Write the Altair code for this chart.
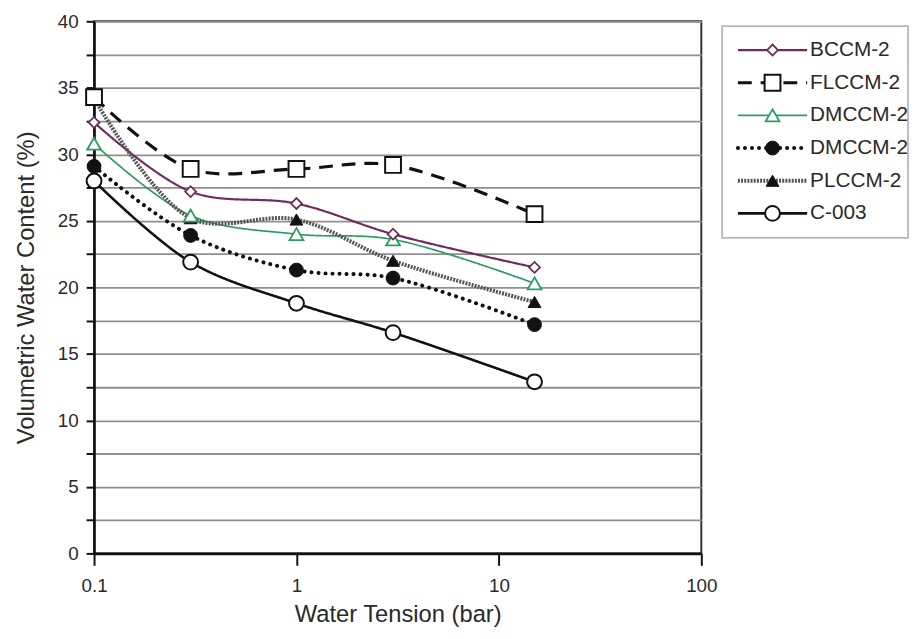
import altair as alt
import pandas as pd

# ---------------- data ----------------
tension = [0.1, 0.3, 1, 3, 15]
series_keys = ["BCCM-2", "FLCCM-2", "DMCCM-2 g", "DMCCM-2 k", "PLCCM-2", "C-003"]
legend_labels = ["BCCM-2", "FLCCM-2", "DMCCM-2", "DMCCM-2", "PLCCM-2", "C-003"]
bccm = [32.4, 27.2, 26.3, 24.0, 21.5]
flccm = [34.3, 28.9, 28.9, 29.2, 25.5]
dmccm_g = [30.8, 25.4, 24.0, 23.6, 20.3]
dmccm_k = [29.1, 23.9, 21.3, 20.7, 17.2]
plccm = [34.2, 25.2, 25.1, 22.0, 18.9]
c003 = [28.0, 21.9, 18.8, 16.6, 12.9]
values = [bccm, flccm, dmccm_g, dmccm_k, plccm, c003]

y_ticks = [i * 2.5 for i in range(17)]
x_ticks = [0.1, 1, 10, 100]

rows = []
for key, vals in zip(series_keys, values):
    for t, v in zip(tension, vals):
        rows.append({"series": key, "tension": t, "value": v})
df = pd.DataFrame(rows)

leg_rows = []
for i, (key, lab) in enumerate(zip(series_keys, legend_labels)):
    leg_rows.append({"series": key, "label": lab, "idx": i,
                     "x0": 16, "x1": 86, "xm": 51, "xt": 89})
leg_df = pd.DataFrame(leg_rows)
box_df = pd.DataFrame([{"bx0": 0, "bx1": 188, "by0": -0.73, "by1": 5.75}])

# ---------------- styles ----------------
styles = {
    "BCCM-2": dict(color="#6d2d5f", width=2.2, dash=[1, 0], cap="butt",
                   shape="diamond", filled=False, size=121, mstroke="#6d2d5f", sw=1.8),
    "FLCCM-2": dict(color="#111111", width=3.2, dash=[14, 9], cap="butt",
                    shape="square", filled=False, size=256, mstroke="#111111", sw=2),
    "DMCCM-2 g": dict(color="#2e9a62", width=1.7, dash=[1, 0], cap="butt",
                      shape="triangle-up", filled=False, size=196, mstroke="#2e9a62", sw=1.8),
    "DMCCM-2 k": dict(color="#111111", width=4, dash=[0.1, 7], cap="round",
                      shape="circle", filled=True, size=196, mstroke="#111111", sw=1),
    "PLCCM-2": dict(color="#555555", width=4, dash=[2, 1.2], cap="butt",
                    shape="triangle-up", filled=True, size=169, mstroke="#111111", sw=1),
    "C-003": dict(color="#111111", width=2.6, dash=[1, 0], cap="butt",
                  shape="circle", filled=False, size=225, mstroke="#111111", sw=2),
}
point_order = ["PLCCM-2", "DMCCM-2 k", "C-003", "DMCCM-2 g", "BCCM-2", "FLCCM-2"]

FONT = "Liberation Sans"
TXT = "#2a2a2a"

xenc = alt.X("tension:Q",
             scale=alt.Scale(type="log", domain=[0.1, 100]),
             axis=alt.Axis(values=x_ticks, format="~g", grid=False, tickSize=12,
                           tickColor="#111", tickWidth=2, domainColor="#111", domainWidth=2.6,
                           labelPadding=12, labelFontSize=19, labelFont=FONT, labelColor=TXT,
                           title="Water Tension (bar)", titleFontSize=24, titleFont=FONT,
                           titleFontWeight="normal", titleColor=TXT, titlePadding=7,
                           labelFlush=False))
yenc = alt.Y("value:Q",
             scale=alt.Scale(domain=[0, 40], nice=False),
             axis=alt.Axis(values=y_ticks, format="~g",
                           labelExpr="datum.value % 5 === 0 ? datum.label : ''",
                           grid=True, gridColor="#8f8f8f", gridWidth=1.8,
                           tickSize=8, tickColor="#111", tickWidth=2,
                           domainColor="#111", domainWidth=2.6,
                           labelPadding=8, labelFontSize=19, labelFont=FONT, labelColor=TXT,
                           title="Volumetric Water Content (%)", titleFontSize=24,
                           titleFont=FONT, titleFontWeight="normal", titleColor=TXT,
                           titlePadding=19))

base = alt.Chart(df)
layers = []
for key in series_keys:
    s = styles[key]
    layers.append(
        base.transform_filter(alt.datum.series == key)
        .mark_line(color=s["color"], strokeWidth=s["width"], strokeDash=s["dash"],
                   strokeCap=s["cap"], interpolate="catmull-rom")
        .encode(x=xenc, y=yenc)
    )
for key in point_order:
    s = styles[key]
    layers.append(
        base.transform_filter(alt.datum.series == key)
        .mark_point(shape=s["shape"], size=s["size"], filled=True, opacity=1,
                    fill=(s["mstroke"] if s["filled"] else "white"),
                    stroke=s["mstroke"], strokeWidth=s["sw"])
        .encode(x=xenc, y=yenc)
    )

main = alt.layer(*layers).properties(
    width=614, height=538,
    view=alt.ViewBackground(stroke="#333333", strokeWidth=2),
)

# ---------------- legend panel ----------------
lx = alt.Scale(domain=[0, 188])
ly = alt.Scale(domain=[-0.88, 5.75], reverse=True)
lb = alt.Chart(leg_df)
leg_layers = [
    alt.Chart(box_df).mark_rect(fill="white", stroke="#b8b8b8", strokeWidth=1.8).encode(
        x=alt.X("bx0:Q", scale=lx, axis=None), x2="bx1:Q",
        y=alt.Y("by0:Q", scale=ly, axis=None), y2="by1:Q")
]
for key in series_keys:
    s = styles[key]
    leg_layers.append(
        lb.transform_filter(alt.datum.series == key)
        .mark_rule(color=s["color"], strokeWidth=s["width"], strokeDash=s["dash"],
                   strokeCap=s["cap"])
        .encode(x=alt.X("x0:Q", scale=lx, axis=None), x2="x1:Q",
                y=alt.Y("idx:Q", scale=ly, axis=None))
    )
    leg_layers.append(
        lb.transform_filter(alt.datum.series == key)
        .mark_point(shape=s["shape"], size=s["size"], filled=True, opacity=1,
                    fill=(s["mstroke"] if s["filled"] else "white"),
                    stroke=s["mstroke"], strokeWidth=s["sw"])
        .encode(x=alt.X("xm:Q", scale=lx, axis=None),
                y=alt.Y("idx:Q", scale=ly, axis=None))
    )
leg_layers.append(
    lb.mark_text(align="left", baseline="middle", fontSize=21, font=FONT, color=TXT)
    .encode(x=alt.X("xt:Q", scale=lx, axis=None),
            y=alt.Y("idx:Q", scale=ly, axis=None), text="label:N")
)
legend = alt.layer(*leg_layers).properties(
    width=188, height=219,
    view=alt.ViewBackground(stroke="transparent"),
)

chart = alt.hconcat(main, legend, spacing=21, bounds="flush").properties(
    padding={"left": 5, "top": 0, "right": 0, "bottom": 0},
    background="white",
)

chart.save("out.html", embed_options={"renderer": "svg", "actions": False})
